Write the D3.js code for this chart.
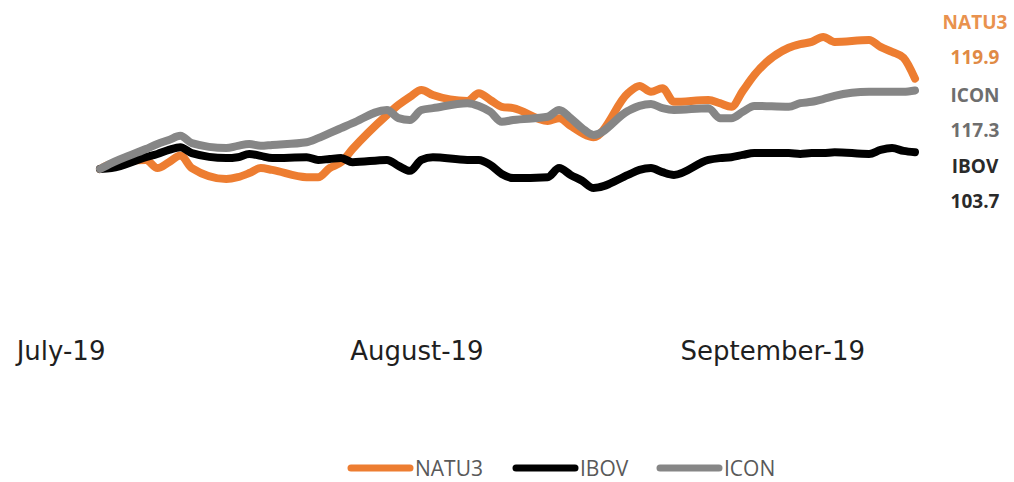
<!DOCTYPE html>
<html>
<head>
<meta charset="utf-8">
<script src="https://cdn.jsdelivr.net/npm/d3@7"></script>
<style>
  html, body { margin: 0; padding: 0; background: #fff; }
  svg { display: block; }
</style>
</head>
<body>
<svg id="chart" width="1014" height="482"></svg>
<script>
// ---- data ----
const dates = [
  "2019-07-04","2019-07-05","2019-07-08","2019-07-09","2019-07-10","2019-07-11","2019-07-12",
  "2019-07-15","2019-07-16","2019-07-17","2019-07-18","2019-07-19",
  "2019-07-22","2019-07-23","2019-07-24","2019-07-25","2019-07-26",
  "2019-07-29","2019-07-30","2019-07-31","2019-08-01","2019-08-02",
  "2019-08-05","2019-08-06","2019-08-07","2019-08-08","2019-08-09",
  "2019-08-12","2019-08-13","2019-08-14","2019-08-15","2019-08-16",
  "2019-08-19","2019-08-20","2019-08-21","2019-08-22","2019-08-23",
  "2019-08-26","2019-08-27","2019-08-28","2019-08-29","2019-08-30",
  "2019-09-02","2019-09-03","2019-09-04","2019-09-05","2019-09-06",
  "2019-09-09","2019-09-10","2019-09-11","2019-09-12","2019-09-13"
];
const natu3 = [
  100.0, 101.1, 102.0, 100.2, 101.5, 103.0, 100.2,
  97.8, 98.2, 99.1, 100.2, 99.8,
  98.2, 98.2, 100.2, 101.5, 104.4,
  111.9, 114.1, 115.9, 117.4, 116.3,
  115.0, 116.7, 115.2, 113.7, 113.4,
  110.6, 111.2, 109.5, 107.9, 107.0,
  116.7, 118.3, 117.0, 117.8, 114.8,
  115.2, 114.5, 113.7, 117.2, 120.7,
  126.7, 127.5, 128.0, 129.1, 128.0,
  128.4, 126.9, 125.8, 124.5, 119.9
];
const ibov = [
  100.0, 100.2, 102.6, 103.3, 104.2, 104.8, 103.5,
  102.4, 102.6, 103.3, 102.9, 102.4,
  102.6, 102.0, 102.2, 102.4, 101.5,
  102.0, 100.7, 99.6, 102.0, 102.6,
  102.0, 102.0, 100.9, 98.9, 98.0,
  98.2, 100.2, 98.7, 97.4, 95.8,
  98.7, 99.8, 100.2, 99.3, 98.7,
  102.0, 102.4, 102.6, 103.1, 103.5,
  103.5, 103.3, 103.5, 103.5, 103.7,
  103.3, 104.2, 104.6, 104.0, 103.7
];
const icon = [
  100.0, 101.3, 104.4, 105.5, 106.4, 107.3, 105.7,
  104.6, 105.1, 105.5, 105.1, 105.3,
  105.9, 106.8, 107.9, 109.0, 110.1,
  113.0, 111.2, 110.8, 113.0, 113.4,
  114.5, 113.9, 112.6, 110.4, 110.8,
  111.5, 113.0, 111.2, 109.0, 107.5,
  112.8, 113.9, 114.3, 113.4, 113.0,
  113.4, 111.2, 111.2, 112.6, 113.9,
  113.7, 114.5, 114.8, 115.4, 116.1,
  117.0, 117.0, 117.0, 117.0, 117.3
];
const seriesNames = ["NATU3", "IBOV", "ICON"];
const seriesColors = ["#ED7D31", "#000000", "#868686"];
const monthTicks = ["2019-07-01", "2019-08-01", "2019-09-01"];
const monthLabels = ["July-19", "August-19", "September-19"];
const endLabels = ["NATU3", "119.9", "ICON", "117.3", "IBOV", "103.7"];
const endLabelColors = ["#E9924E", "#E08A45", "#6E6E6E", "#6E6E6E", "#2A2A2A", "#2A2A2A"];

// ---- chart ----
const svg = d3.select("#chart");
svg.append("rect").attr("width", 1014).attr("height", 482).attr("fill", "#fff");

const parse = d3.timeParse("%Y-%m-%d");
const dd = dates.map(parse);

const x = d3.scaleTime()
  .domain([dd[0], dd[dd.length - 1]])
  .range([100, 915]);
const y = d3.scaleLinear()
  .domain([100, 120])
  .range([169, 78.2]);

const seriesValues = [natu3, ibov, icon];
const line = d3.line()
  .x(d => x(d.date))
  .y(d => y(d.v))
  .curve(d3.curveMonotoneX);

seriesValues.forEach((vals, i) => {
  const pts = vals.map((v, j) => ({ date: dd[j], v }));
  svg.append("path")
    .datum(pts)
    .attr("d", line)
    .attr("fill", "none")
    .attr("stroke", seriesColors[i])
    .attr("stroke-width", 8)
    .attr("stroke-linecap", "round")
    .attr("stroke-linejoin", "round");
});

// month axis labels (no axis line)
const xAxis = d3.axisBottom(x)
  .tickValues(monthTicks.map(parse))
  .tickFormat((d, i) => monthLabels[i])
  .tickSize(0)
  .tickPadding(0);
const gx = svg.append("g").attr("transform", "translate(-5,342)").call(xAxis);
gx.select(".domain").remove();
gx.selectAll("text")
  .attr("font-family", "'DejaVu Sans', sans-serif")
  .attr("font-size", 26)
  .attr("fill", "#1f1f1f")
  .attr("dy", "0.71em");

// right-side value labels
const endY = [22, 57, 95, 130, 166, 201];
endLabels.forEach((t, i) => {
  svg.append("text")
    .attr("x", 975)
    .attr("y", endY[i])
    .attr("dy", "0.36em")
    .attr("text-anchor", "middle")
    .attr("font-family", "'Open Sans', sans-serif")
    .attr("font-weight", 700)
    .attr("font-size", 19)
    .attr("fill", endLabelColors[i])
    .text(t);
});

// legend
const legendX = [348, 513, 657];
const legendY = 468;
seriesNames.forEach((name, i) => {
  const g = svg.append("g");
  g.append("line")
    .attr("x1", legendX[i] + 3).attr("x2", legendX[i] + 62)
    .attr("y1", legendY).attr("y2", legendY)
    .attr("stroke", seriesColors[i])
    .attr("stroke-width", 7)
    .attr("stroke-linecap", "round");
  g.append("text")
    .attr("x", legendX[i] + 67)
    .attr("y", legendY)
    .attr("dy", "0.36em")
    .attr("font-family", "'Open Sans', sans-serif")
    .attr("font-size", 21)
    .attr("fill", "#595959")
    .text(name);
});
</script>
</body>
</html>
